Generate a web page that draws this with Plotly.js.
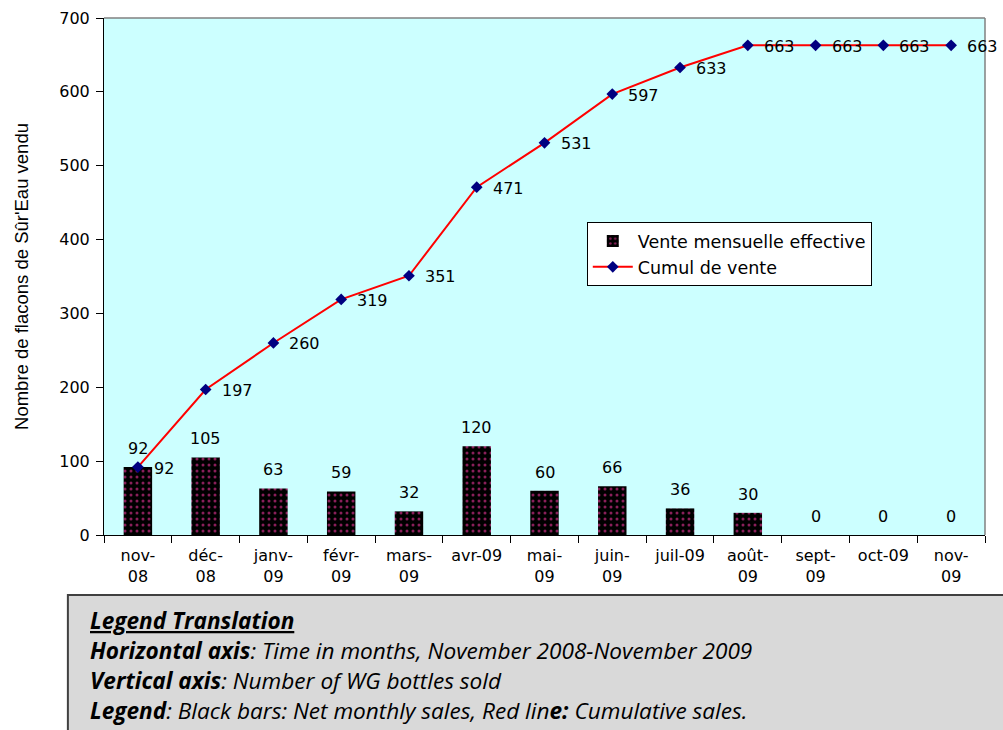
<!DOCTYPE html>
<html>
<head>
<meta charset="utf-8">
<script src="https://cdn.plot.ly/plotly-3.0.1.min.js"></script>
<style>body{margin:0;padding:0;background:#fff}#chart{width:1003px;height:730px}</style>
</head>
<body>
<div id="chart"></div>
<script>
const months = ["nov-<br>08","déc-<br>08","janv-<br>09","févr-<br>09","mars-<br>09","avr-09","mai-<br>09","juin-<br>09","juil-09","août-<br>09","sept-<br>09","oct-09","nov-<br>09"];
const monthly = [92,105,63,59,32,120,60,66,36,30,0,0,0];
const cumulative = [92,197,260,319,351,471,531,597,633,663,663,663,663];
const barName = "Vente mensuelle effective";
const lineName = "Cumul de vente";
const yTitle = "Nombre de flacons de Sûr'Eau vendu";
const yTicks = [0,100,200,300,400,500,600,700];

const font = "DejaVu Sans, Verdana, sans-serif";
const noteFont = {family: "Open Sans, sans-serif", size: 22.6, color: "#000"};

const traces = [
  {
    type: "bar", x: months, y: monthly, name: barName,
    marker: {color: "#000000", line: {color: "#000000", width: 0},
      pattern: {shape: ".", fgcolor: "#8a1f5a", bgcolor: "#000000", size: 6, solidity: 0.2}},
    hoverinfo: "x+y"
  },
  {
    type: "scatter", mode: "lines+markers", x: months, y: cumulative, name: lineName,
    line: {color: "#ff0000", width: 2},
    marker: {symbol: "diamond", color: "#000080", size: 9}
  }
];

const barLabels = months.map((m, i) => ({
  x: m, y: monthly[i], xref: "x", yref: "y", text: String(monthly[i]), showarrow: false,
  xanchor: "center", yanchor: "bottom", yshift: 7, font: {family: font, size: 16, color: "#000"}
}));
const lineLabels = months.map((m, i) => ({
  x: m, y: cumulative[i], xref: "x", yref: "y", text: String(cumulative[i]), showarrow: false,
  xanchor: "left", yanchor: "middle", xshift: 14, yshift: -1, font: {family: font, size: 16, color: "#000"}
}));

const notes = [
  {y: -0.165, text: "<b><i><u>Legend Translation</u></i></b>"},
  {y: -0.223, text: "<b><i>Horizontal axis</i></b><i>: Time in months, November 2008-November 2009</i>"},
  {y: -0.281, text: "<b><i>Vertical axis</i></b><i>: Number of WG bottles sold</i>"},
  {y: -0.339, text: "<b><i>Legend</i></b><i>: Black bars: Net monthly sales, Red lin</i><b><i>e:</i></b><i> Cumulative sales.</i>"}
].map(n => ({xref: "paper", yref: "paper", x: -0.018, y: n.y, xanchor: "left", yanchor: "middle",
  showarrow: false, align: "left", text: n.text, font: noteFont}));

const layout = {
  width: 1003, height: 730,
  margin: {l: 104, r: 18, t: 18, b: 195},
  paper_bgcolor: "#ffffff", plot_bgcolor: "#ccffff",
  bargap: 0.58,
  showlegend: true,
  legend: {x: 0.548, y: 0.605, xanchor: "left", yanchor: "top",
    bgcolor: "#ffffff", bordercolor: "#000000", borderwidth: 1, itemwidth: 40,
    font: {family: font, size: 17.5, color: "#000"}, tracegroupgap: 0, traceorder: "normal"},
  xaxis: {type: "category", range: [-0.5, months.length - 0.5], tickson: "boundaries", ticks: "outside", ticklen: 7, tickcolor: "#000",
    showline: true, linecolor: "#000", linewidth: 1, showgrid: false, automargin: false,
    ticklabelstandoff: 6,
    tickfont: {family: font, size: 16, color: "#000"}, tickangle: 0, fixedrange: true},
  yaxis: {range: [0, 700], tickvals: yTicks, ticks: "outside", ticklen: 7, tickcolor: "#000",
    showline: true, linecolor: "#000", linewidth: 1, showgrid: false, zeroline: false, automargin: false,
    ticklabelstandoff: 3,
    tickfont: {family: font, size: 16, color: "#000"},
    title: {text: yTitle, font: {family: "Liberation Sans Narrow, Liberation Sans, Arial", size: 18.5, color: "#000"}, standoff: 25}},
  shapes: [
    {type: "line", xref: "paper", yref: "paper", x0: 0, x1: 1, y0: 1, y1: 1, line: {color: "#808080", width: 1.5}},
    {type: "line", xref: "paper", yref: "paper", x0: 1, x1: 1, y0: 0, y1: 1, line: {color: "#808080", width: 1.5}},
    {type: "rect", xref: "paper", yref: "paper", x0: -0.041, x1: 1.03, y0: -0.116, y1: -0.40,
      fillcolor: "#d9d9d9", line: {color: "#404040", width: 2}, layer: "above"}
  ],
  annotations: barLabels.concat(lineLabels, notes)
};

Plotly.newPlot("chart", traces, layout, {displayModeBar: false, staticPlot: true});
</script>
</body>
</html>
